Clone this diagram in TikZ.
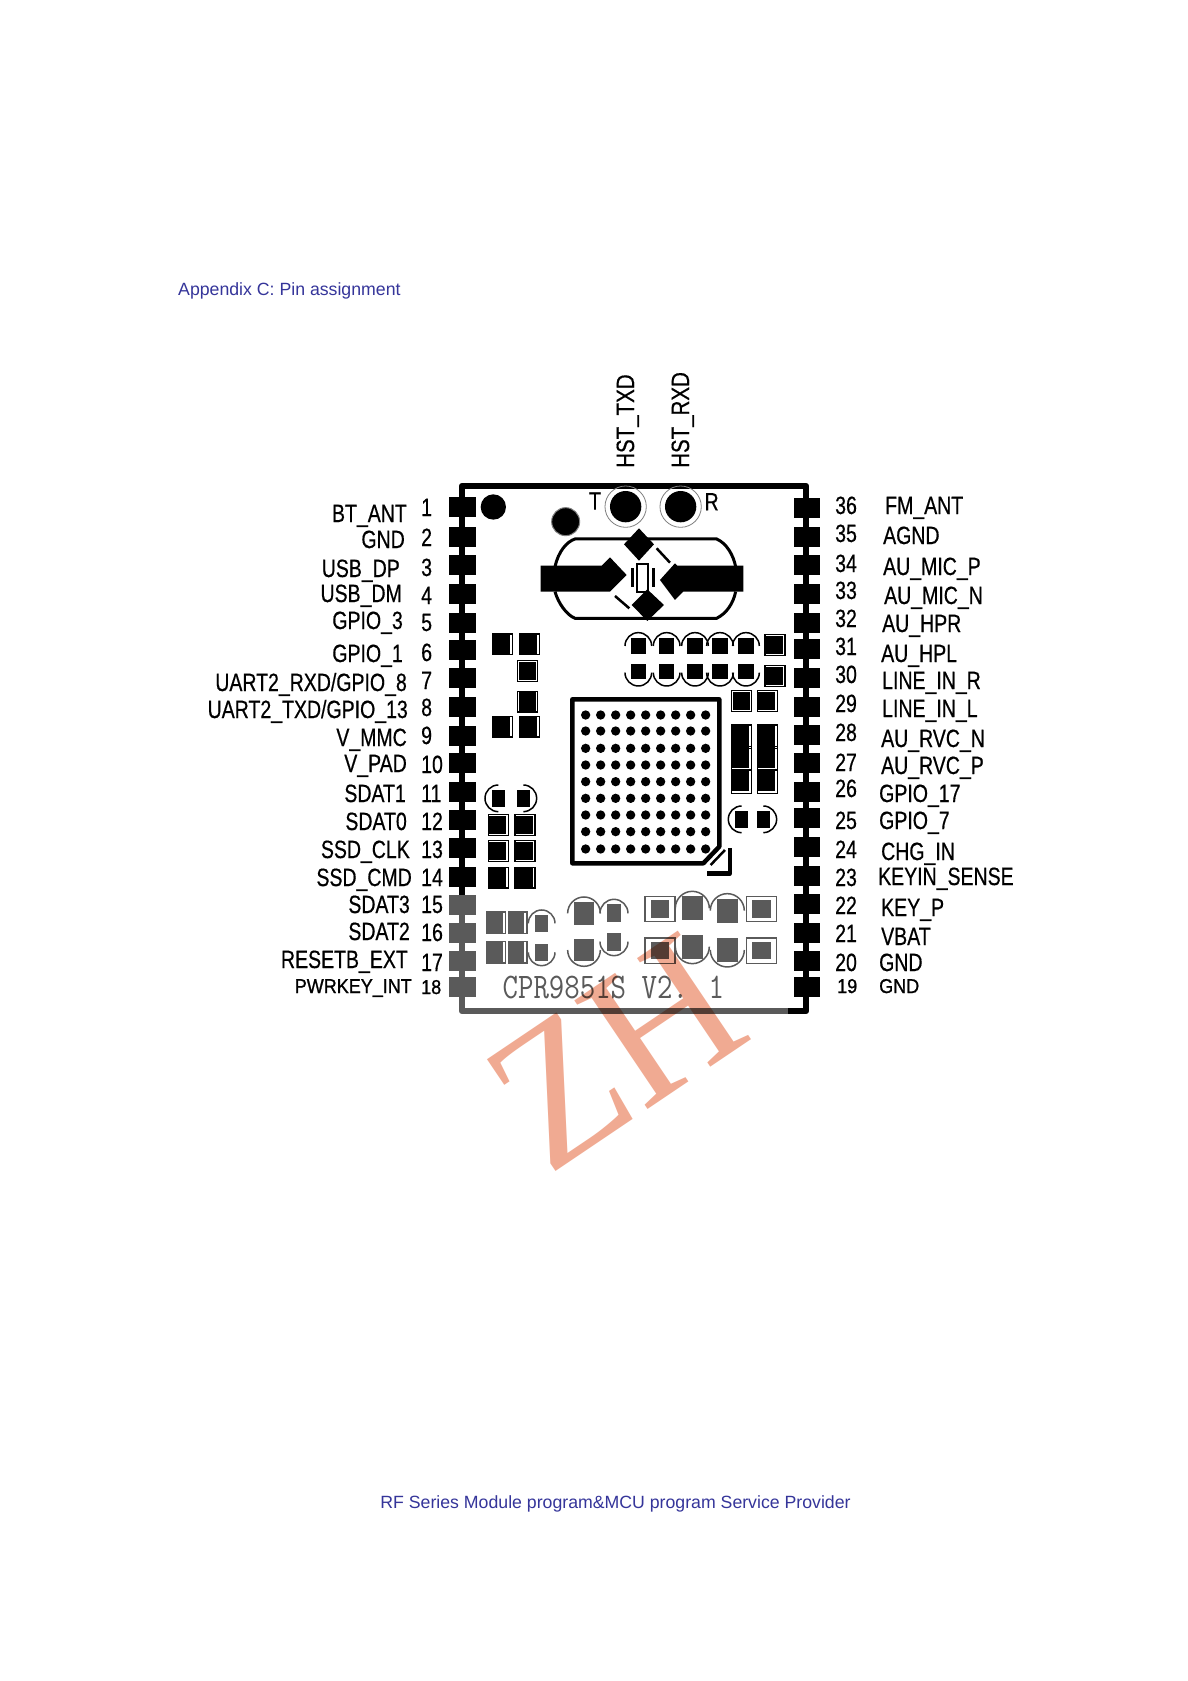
\documentclass[tikz,border=0pt]{standalone}
\usepackage{fontspec}
\usepackage{xcolor}
\setmainfont{Liberation Sans}
\newfontfamily\pinface[FakeStretch=0.78,FakeBold=0.5]{Liberation Sans}
\newfontfamily\pintop[FakeStretch=0.82,FakeBold=0.5]{Liberation Sans}
\newfontfamily\pinwide[FakeStretch=0.9,FakeBold=1]{Liberation Sans}
\newfontfamily\markface[FakeStretch=0.94]{Liberation Serif}
\newcommand{\pinfont}{\pinface\fontsize{25}{25}\selectfont}
\newcommand{\pinsmall}{\pinwide\fontsize{20}{20}\selectfont}
\definecolor{pagetext}{HTML}{35359A}
\definecolor{inkgrey}{HTML}{5A5A5A}
\definecolor{markred}{HTML}{F0AA92}
\colorlet{ink}{black}
\newcommand{\boxpad}[2]{%
  \draw[ink,line width=1.1pt] (#1-30,#2-31) rectangle (#1+30,#2+31);
  \fill[ink] (#1-27,#2-28) rectangle (#1+24,#2+28);}
\newcommand{\arcpad}[4]{%
  \fill[ink] (#1-#4,#2-#4-5) rectangle (#1+#4,#2+#4+5);
  \draw[ink,line width=1.5pt] (#1,#2) ++(#3:#4+20) arc (#3:#3+180:#4+20);}
\tikzset{
  pad/.style={fill=ink,minimum width=26.5pt,minimum height=19.5pt,inner sep=0pt},
  pinlabel/.style={font=\pinfont,text=ink,inner sep=0pt,text height=18pt,text depth=0pt},
  smalllabel/.style={pinlabel,font=\pinsmall,text height=14pt},
  pagelabel/.style={font=\fontsize{17.7}{17.7}\selectfont,text=pagetext,inner sep=0pt}
}
\begin{document}
\begin{tikzpicture}[x=1pt,y=-1pt]
\useasboundingbox (0,0) rectangle (1188,1681);
\fill[white] (0,0) rectangle (1188,1681);
\node (title) [pagelabel,anchor=base west] at (178,295) {Appendix C: Pin assignment};
\node (footer) [pagelabel,anchor=base] at (615.5,1508) {RF Series Module program\&MCU program Service Provider};
% board outline
\draw[black,line width=6.5pt,line join=round] (462,895) -- (462,486) -- (806,486) -- (806,1011) -- (788,1011);
\draw[inkgrey,line width=6.5pt,line join=round] (788,1011) -- (462,1011) -- (462,895);
% left pins
\foreach \n/\py/\ny/\lx/\ly/\name in {
  1/507/507/407/513/BT\_ANT,
  2/537/537/405/539/GND,
  3/565/567/400/568/USB\_DP,
  4/594/595/402/593/USB\_DM,
  5/623/622/403/620/GPIO\_3,
  6/650/652/403/653/GPIO\_1,
  7/678/680/407/682/{UART2\_RXD/GPIO\_8},
  8/707/707/408/709/{UART2\_TXD/GPIO\_13},
  9/736/735/407/737/V\_MMC,
  10/763/764/407/763/V\_PAD,
  11/792/793/406/793/SDAT1,
  12/820/821/407/821/SDAT0,
  13/848/849/410/849/SSD\_CLK,
  14/877/877/412/877/SSD\_CMD}{
  \node (lpad\n) [pad] at (462.5,\py) {};
  \node (lnum\n) [pinlabel,anchor=west] at (421,\ny) {\n};
  \node (lname\n) [pinlabel,anchor=east] at (\lx,\ly) {\name};
}
\colorlet{ink}{inkgrey}
\foreach \n/\py/\ny/\lx/\ly/\name in {
  15/905/904/410/904/SDAT3,
  16/933/932/410/931/SDAT2,
  17/961/962/408/959/RESETB\_EXT}{
  \node (lpad\n) [pad] at (462.5,\py) {};
  \node (lnum\n) [pinlabel,text=black,anchor=west] at (421,\ny) {\n};
  \node (lname\n) [pinlabel,text=black,anchor=east] at (\lx,\ly) {\name};
}
\node (lpad18) [pad] at (462.5,987) {};
\colorlet{ink}{black}
\node (lnum18) [smalllabel,anchor=west] at (421,987) {18};
\node (lname18) [smalllabel,anchor=east] at (412,986) {PWRKEY\_INT};
% right pins
\foreach \n/\py/\ny/\lx/\ly/\name in {
  36/508/505/885/505/FM\_ANT,
  35/537/533/883/535/AGND,
  34/565/563/883/566/AU\_MIC\_P,
  33/594/590/884/595/AU\_MIC\_N,
  32/623/618/882/623/AU\_HPR,
  31/649/646/881/653/AU\_HPL,
  30/678/674/882/680/LINE\_IN\_R,
  29/707/703/882/708/LINE\_IN\_L,
  28/735/732/881/738/AU\_RVC\_N,
  27/763/762/881/765/AU\_RVC\_P,
  26/792/788/879/793/GPIO\_17,
  25/818/820/879/820/GPIO\_7,
  24/847/849/881/851/CHG\_IN,
  23/876/877/878/876/KEYIN\_SENSE,
  22/904/905/881/907/KEY\_P,
  21/933/933/881/936/VBAT,
  20/961/962/879/962/GND}{
  \node (rpad\n) [pad] at (807,\py) {};
  \node (rnum\n) [pinlabel,anchor=west] at (835,\ny) {\n};
  \node (rname\n) [pinlabel,anchor=west] at (\lx,\ly) {\name};
}
\node (rpad19) [pad] at (807,987) {};
\node (rnum19) [smalllabel,anchor=west] at (837,986) {19};
\node (rname19) [smalllabel,anchor=west] at (879,986) {GND};
% top labels
\node (hsttxd) [pinlabel,font=\pintop\fontsize{25}{25}\selectfont,rotate=90,anchor=west] at (625,468) {HST\_TXD};
\node (hstrxd) [pinlabel,font=\pintop\fontsize{25}{25}\selectfont,rotate=90,anchor=west] at (680,468) {HST\_RXD};
% upper part of the board
\begin{scope}[shift={(440,360)},x=0.3333pt,y=-0.3333pt]
\fill (160,441) circle (38);
\draw[gray,line width=1pt,fill=black] (377,485) circle (42);
\node (tmark) [pinlabel] at (465,422) {T};
\node (rmark) [pinlabel] at (815,424) {R};
\foreach \cx in {557,722}{
  \fill (\cx,440) circle (47);
  \draw[gray,line width=.8pt] (\cx,440) circle (62);
}
\draw[line width=3pt] (345,620) .. controls (355,575) and (380,545) .. (405,537) -- (830,537) .. controls (860,550) and (880,585) .. (887,620);
\draw[line width=3pt] (345,695) .. controls (355,730) and (380,765) .. (405,775) -- (830,775) .. controls (860,760) and (880,730) .. (887,695);
\fill (302,617) -- (485,617) -- (510,592) -- (560,645) -- (510,695) -- (302,695) -- cycle;
\fill (910,617) -- (712,617) -- (705,610) -- (660,660) -- (705,720) -- (730,695) -- (910,695) -- cycle;
\fill (597,505) -- (642,553) -- (597,602) -- (552,553) -- cycle;
\fill (622,688) -- (672,735) -- (622,783) -- (575,735) -- cycle;
\draw[line width=2.2pt] (590,612) rectangle (625,697);
\draw[line width=3pt] (578,625) -- (578,680) (640,625) -- (640,680);
\draw[line width=2.5pt] (650,565) -- (690,608) (525,708) -- (568,745);
\foreach \cx/\cy in {187/853,268/853,263/933,263/1025,187/1100,268/1100,1005/855,1005/948,905/1023,982/1023}{
  \boxpad{\cx}{\cy}
}
\foreach \cx in {595,680,765,840,918}{
  \fill (\cx-23,835) rectangle (\cx+23,882);
  \draw[line width=1.5pt] (\cx-40,858) arc (180:360:40);
  \fill (\cx-23,912) rectangle (\cx+23,958);
  \draw[line width=1.5pt] (\cx-40,938) arc (180:0:40);
}
\end{scope}
% lower part of the board
\begin{scope}[shift={(440,700)},x=0.3333pt,y=-0.3333pt]
\foreach \cx in {905,982}{
  \foreach \cy in {110,175,245}{
    \draw[line width=1.1pt] (\cx-30,\cy-35) rectangle (\cx+30,\cy+35);
    \fill (\cx-30,\cy-36) rectangle (\cx+22,\cy+28);
  }
}
\arcpad{905}{358}{90}{20}
\arcpad{970}{358}{-90}{20}
\arcpad{175}{295}{90}{20}
\arcpad{250}{295}{-90}{20}
\foreach \cx in {175,255}{
  \foreach \cy in {375,453,533}{
    \boxpad{\cx}{\cy}
  }
}
% ball grid
\draw[line width=4.5pt,line join=round] (838,440) -- (838,-2) -- (397,-2) -- (397,490) -- (790,490) -- cycle;
\foreach \cx in {437,482,527,572,617,662,707,752,797}{
  \foreach \cy in {45,93,145,195,245,295,345,395,447}{
    \fill (\cx,\cy) circle (14);
  }
}
\draw[line width=4.5pt,line join=round] (870,445) -- (870,520) -- (800,520);
\draw[line width=2.5pt] (855,450) -- (812,495);
\colorlet{ink}{inkgrey}
\foreach \cx/\cy/\st/\hw in {432/640/180/29,522/640/180/22,432/750/0/29,522/725/0/22,757/625/180/31,862/632/180/31,757/740/0/31,862/750/0/31,305/670/180/20,305/757/0/20}{
  \arcpad{\cx}{\cy}{\st}{\hw}
}
\foreach \cx/\cy in {168/668,233/668,168/757,233/757}{
  \draw[ink,line width=1.1pt] (\cx-28,\cy-32) rectangle (\cx+28,\cy+32);
  \fill[ink] (\cx-26,\cy-30) rectangle (\cx+20,\cy+30);
}
\foreach \cx/\cy in {660/627,965/627,660/752,965/752}{
  \draw[ink,line width=1.5pt] (\cx-45,\cy-38) rectangle (\cx+45,\cy+38);
  \fill[ink] (\cx-28,\cy-26) rectangle (\cx+28,\cy+26);
}
\node (version) [text=ink,inner sep=0pt] at (520,862) {\scalebox{1}[1.2]{\ttfamily\fontsize{30}{30}\selectfont CPR9851S V2. 1}};
\colorlet{ink}{black}
\end{scope}
% watermark
\begin{scope}[blend mode=multiply]
\node (zhmark) [font=\markface\fontsize{200}{200}\selectfont,text=markred,inner sep=0pt,rotate=34,anchor=base west] at (548,1177) {ZH};
\end{scope}
\end{tikzpicture}
\end{document}
